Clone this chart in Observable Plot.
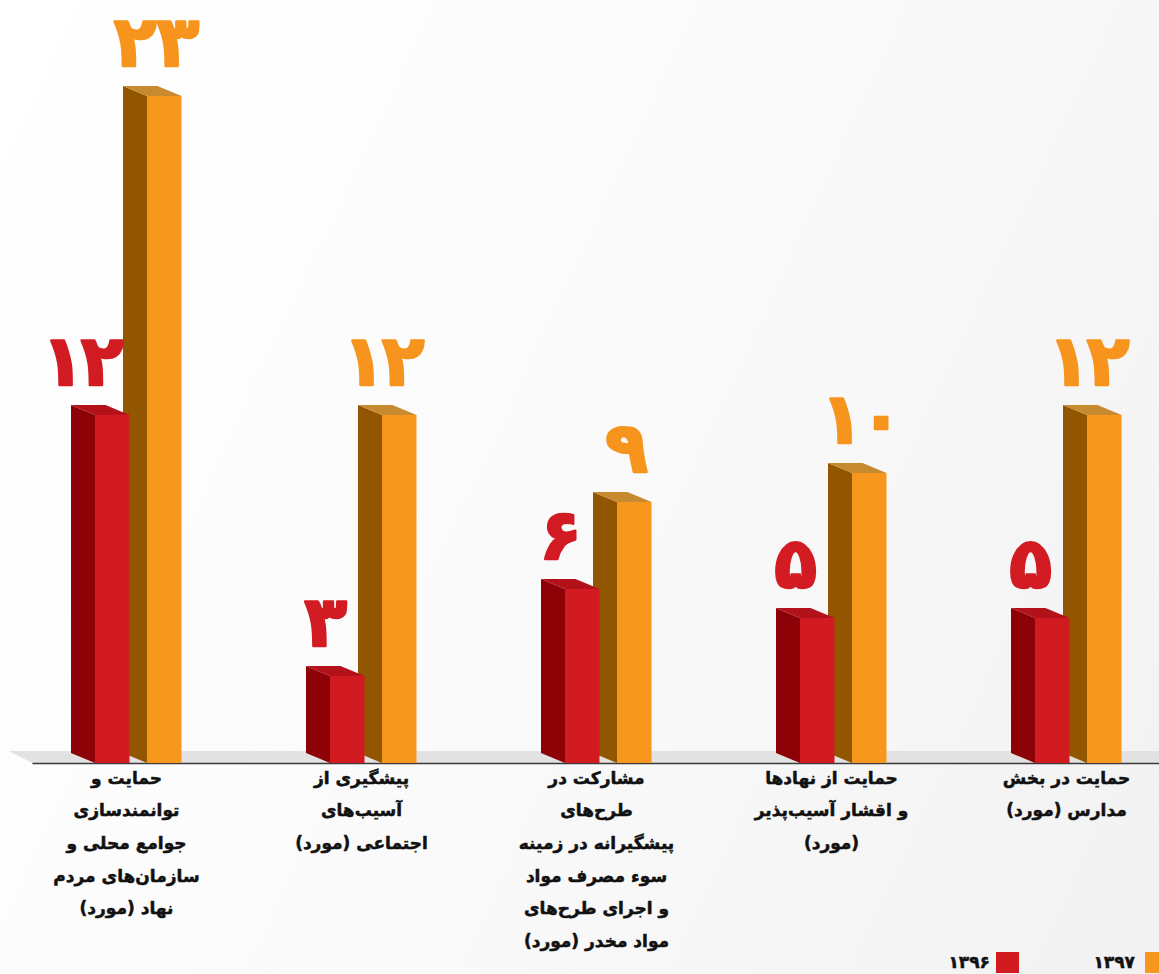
<!DOCTYPE html>
<html><head><meta charset="utf-8">
<script src="https://cdn.jsdelivr.net/npm/d3@7"></script>
<script src="https://cdn.jsdelivr.net/npm/@observablehq/plot@0.6"></script>
<style>
html,body{margin:0;padding:0;}
body{width:1159px;height:974px;overflow:hidden;position:relative;font-family:"DejaVu Sans",sans-serif;
background:linear-gradient(115deg,#ffffff 0%,#fcfcfc 35%,#f7f7f7 70%,#f2f2f2 100%);}
#chart{position:absolute;left:0;top:0;}
.lg{position:absolute;top:952px;height:21px;}
.sw{width:23px;}
.lt{font-weight:bold;font-size:17px;line-height:21px;color:#111;direction:rtl;-webkit-text-stroke:0.5px #111;}
</style></head><body>
<div id="chart"></div>
<div class="lg sw" style="left:1145px;background:#f7971e"></div>
<div class="lg lt" style="right:24px;" id="l97"></div>
<div class="lg sw" style="left:996px;background:#d21a21"></div>
<div class="lg lt" style="right:169px;" id="l96"></div>
<script>
const categories = [
  "حمایت و\nتوانمندسازی\nجوامع محلی و\nسازمان‌های مردم\nنهاد (مورد)",
  "پیشگیری از\nآسیب‌های\nاجتماعی (مورد)",
  "مشارکت در\nطرح‌های\nپیشگیرانه در زمینه\nسوء مصرف مواد\nو اجرای طرح‌های\nمواد مخدر (مورد)",
  "حمایت از نهادها\nو اقشار آسیب‌پذیر\n(مورد)",
  "حمایت در بخش\nمدارس (مورد)"
];
const seriesNames = ["۱۳۹۶", "۱۳۹۷"];
const values1396 = [12, 3, 6, 5, 5];
const values1397 = [23, 12, 9, 10, 12];

const colors = {
  "1396": {front: "#d21a21", side: "#8c0207", top: "#b3121a", label: "#d21b22"},
  "1397": {front: "#f7971e", side: "#925600", top: "#c88a2f", label: "#f7941d"}
};

const fa = n => String(n).replace(/\d/g, d => "۰۱۲۳۴۵۶۷۸۹"[d]);

// geometry (pixels), converted to x units (1 category = 235 px)
const step = 235, k = 1 / step;
const frontW = 34.5, sideW = 24, depthPx = 10, pxPerUnit = 29;
const d = depthPx / pxPerUnit;
const offsets = {"1396": -31, "1397": 21};
const labelOff = {"1396": -36, "1397": 30};

const bars = [];
categories.forEach((c, i) => {
  bars.push({cat: c, i, s: "1396", value: values1396[i]});
  bars.push({cat: c, i, s: "1397", value: values1397[i]});
});
bars.forEach(b => {
  b.xF = b.i + 0.5 + offsets[b.s] * k;
  b.xB = b.xF - sideW * k;
  b.w = frontW * k;
});

function sidePts(s) {
  return bars.filter(b => b.s === s).flatMap(b => [
    {id: b.i, x: b.xB, y1: d, y2: b.value + d},
    {id: b.i, x: b.xF, y1: 0, y2: b.value}
  ]);
}
function topPts(s) {
  return bars.filter(b => b.s === s).flatMap(b => [
    {id: b.i, x: b.xB, y1: b.value + d, y2: b.value + d},
    {id: b.i, x: b.xF, y1: b.value, y2: b.value + d},
    {id: b.i, x: b.xB + b.w, y1: b.value, y2: b.value + d},
    {id: b.i, x: b.xF + b.w, y1: b.value, y2: b.value}
  ]);
}
const floorD = 12 / pxPerUnit;
const floorPts = [
  {x: 0, y1: floorD, y2: floorD},
  {x: sideW * k, y1: 0, y2: floorD},
  {x: 5, y1: 0, y2: floorD}
];

function barMarks(s) {
  const c = colors[s];
  const data = bars.filter(b => b.s === s);
  return [
    Plot.areaY(sidePts(s), {x: "x", y1: "y1", y2: "y2", z: "id", fill: c.side, curve: "linear"}),
    Plot.areaY(topPts(s), {x: "x", y1: "y1", y2: "y2", z: "id", fill: c.top, curve: "linear"}),
    Plot.rect(data, {x1: "xF", x2: b => b.xF + b.w, y1: 0, y2: "value", fill: c.front}),
    Plot.text(data, {x: b => b.i + 0.5 + labelOff[s] * k, y: "value", text: b => fa(b.value),
      dy: -53, fontSize: 70, fontWeight: "bold", fill: c.label, stroke: c.label, strokeWidth: 2.5,
      fontFamily: "DejaVu Sans"})
  ];
}

const chart = Plot.plot({
  width: 1159, height: 945, margin: 0,
  x: {type: "linear", domain: [0, 5], range: [8.5, 8.5 + 5 * step], axis: null},
  y: {domain: [0, 26], range: [763, 763 - 26 * pxPerUnit], axis: null},
  style: {background: "transparent", overflow: "visible"},
  marks: [
    Plot.areaY(floorPts, {x: "x", y1: "y1", y2: "y2", fill: "#e2e2e2", curve: "linear"}),
    Plot.ruleY([0], {x1: sideW * k, x2: 5, stroke: "#3a3a3a", strokeWidth: 1.6}),
    ...barMarks("1397"),
    ...barMarks("1396"),
    Plot.text(categories, {x: (c, i) => i + 0.5, y: 0, text: c => c, lineAnchor: "top", dy: -3,
      lineHeight: 1.92, fontSize: 17, fontWeight: "bold", fill: "#111", stroke: "#111", strokeWidth: 0.5,
      fontFamily: "DejaVu Sans"})
  ]
});
document.getElementById("chart").appendChild(chart);
d3.select(chart).selectAll('g[font-size="70"] text').attr("paint-order", "normal")
  .each(function() {
    const t = this.textContent;
    if (t.includes("۱")) {
      d3.select(this).attr("textLength", 82).attr("lengthAdjust", "spacing");
      if (t.includes("۲")) d3.select(this).attr("dx", -8);
    }
  });
d3.select(chart).selectAll('g[font-size="17"] text').attr("paint-order", "normal").style("direction", "rtl");
document.getElementById("l96").textContent = seriesNames[0];
document.getElementById("l97").textContent = seriesNames[1];
</script>
</body></html>
